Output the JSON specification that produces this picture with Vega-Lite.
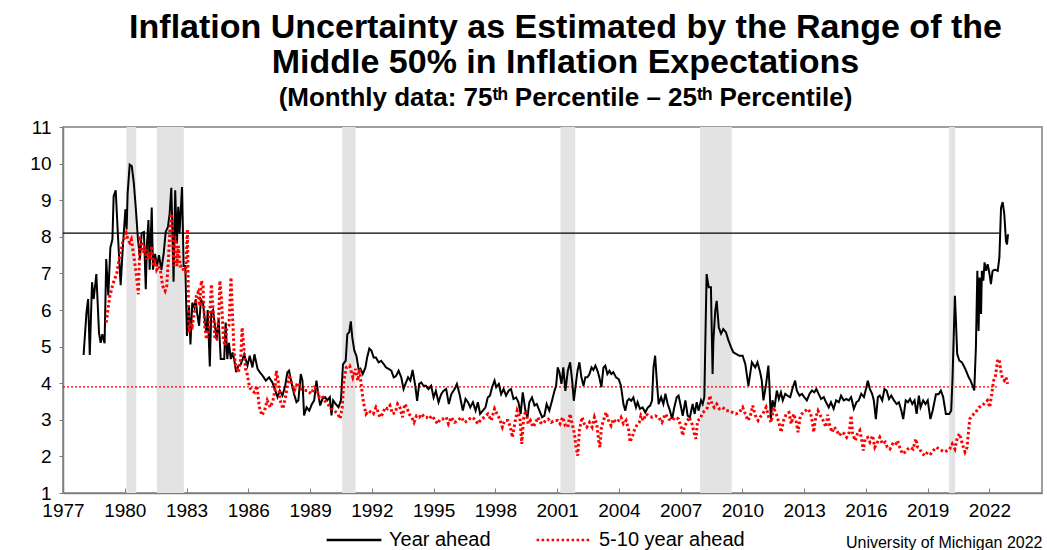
{
"$schema": "https://vega.github.io/schema/vega-lite/v6.json",
"width": 979, "height": 366,
"autosize": {"type": "none"},
"padding": {"left": 63, "top": 127, "right": 5, "bottom": 57},
"background": "white",
"config": {"view": {"stroke": "#7f7f7f", "strokeWidth": 1.5}},
"title": {"text": ["Inflation Uncertainty as Estimated by the Range of the", "Middle 50% in Inflation Expectations"], "subtitle": "(Monthly data:  75ᵗʰ Percentile – 25ᵗʰ Percentile)", "font": "Liberation Sans", "fontSize": 34, "fontWeight": "bold", "lineHeight": 35, "color": "black", "subtitleFont": "Liberation Sans", "subtitleFontSize": 26, "subtitleFontWeight": "bold", "subtitleColor": "black", "subtitlePadding": 5, "anchor": "middle", "frame": "group", "dx": 13, "offset": 7},
"datasets": {
"rec": [{"a":1980.08,"b":1980.56},{"a":1981.56,"b":1982.87},{"a":1990.56,"b":1991.21},{"a":2001.16,"b":2001.88},{"a":2007.94,"b":2009.48},{"a":2020.03,"b":2020.33}],
"ref": [{"lvl":8.1,"from":1977,"to":2022.48,"k":"Year ahead"},{"lvl":3.9,"from":1977,"to":2022.4,"k":"5-10 year ahead"}],
"lines": [
{"s":"Year ahead","t":1978.00,"v":4.77},{"s":"Year ahead","t":1978.14,"v":5.93},{"s":"Year ahead","t":1978.22,"v":6.30},{"s":"Year ahead","t":1978.30,"v":4.77},{"s":"Year ahead","t":1978.41,"v":6.76},{"s":"Year ahead","t":1978.49,"v":6.30},{"s":"Year ahead","t":1978.62,"v":6.98},{"s":"Year ahead","t":1978.75,"v":5.37},{"s":"Year ahead","t":1978.83,"v":5.10},{"s":"Year ahead","t":1978.91,"v":5.34},
{"s":"Year ahead","t":1979.02,"v":5.09},{"s":"Year ahead","t":1979.10,"v":7.39},{"s":"Year ahead","t":1979.20,"v":6.40},{"s":"Year ahead","t":1979.30,"v":7.70},{"s":"Year ahead","t":1979.40,"v":7.93},{"s":"Year ahead","t":1979.46,"v":9.11},{"s":"Year ahead","t":1979.56,"v":9.27},{"s":"Year ahead","t":1979.67,"v":8.02},{"s":"Year ahead","t":1979.80,"v":6.68},{"s":"Year ahead","t":1979.91,"v":7.75},
{"s":"Year ahead","t":1980.03,"v":8.75},{"s":"Year ahead","t":1980.09,"v":8.20},{"s":"Year ahead","t":1980.14,"v":9.20},{"s":"Year ahead","t":1980.24,"v":9.97},{"s":"Year ahead","t":1980.34,"v":9.93},{"s":"Year ahead","t":1980.44,"v":9.47},{"s":"Year ahead","t":1980.54,"v":8.75},{"s":"Year ahead","t":1980.64,"v":7.93},{"s":"Year ahead","t":1980.74,"v":7.39},{"s":"Year ahead","t":1980.82,"v":8.10},{"s":"Year ahead","t":1980.93,"v":8.13},
{"s":"Year ahead","t":1981.02,"v":6.57},{"s":"Year ahead","t":1981.08,"v":7.82},{"s":"Year ahead","t":1981.15,"v":8.46},{"s":"Year ahead","t":1981.21,"v":7.10},{"s":"Year ahead","t":1981.31,"v":8.80},{"s":"Year ahead","t":1981.37,"v":7.10},{"s":"Year ahead","t":1981.47,"v":7.53},{"s":"Year ahead","t":1981.57,"v":7.20},{"s":"Year ahead","t":1981.66,"v":7.50},{"s":"Year ahead","t":1981.78,"v":7.10},{"s":"Year ahead","t":1981.89,"v":7.55},{"s":"Year ahead","t":1981.99,"v":8.14},
{"s":"Year ahead","t":1982.10,"v":8.27},{"s":"Year ahead","t":1982.18,"v":8.64},{"s":"Year ahead","t":1982.26,"v":9.34},{"s":"Year ahead","t":1982.31,"v":8.30},{"s":"Year ahead","t":1982.37,"v":6.77},{"s":"Year ahead","t":1982.45,"v":9.27},{"s":"Year ahead","t":1982.53,"v":7.82},{"s":"Year ahead","t":1982.60,"v":8.82},{"s":"Year ahead","t":1982.66,"v":8.10},{"s":"Year ahead","t":1982.78,"v":9.36},{"s":"Year ahead","t":1982.86,"v":7.20},{"s":"Year ahead","t":1982.94,"v":7.20},
{"s":"Year ahead","t":1983.02,"v":5.29},{"s":"Year ahead","t":1983.12,"v":6.11},{"s":"Year ahead","t":1983.19,"v":5.06},{"s":"Year ahead","t":1983.28,"v":6.20},{"s":"Year ahead","t":1983.38,"v":6.06},{"s":"Year ahead","t":1983.45,"v":6.29},{"s":"Year ahead","t":1983.51,"v":5.93},{"s":"Year ahead","t":1983.61,"v":5.57},{"s":"Year ahead","t":1983.70,"v":6.29},{"s":"Year ahead","t":1983.80,"v":6.20},{"s":"Year ahead","t":1983.90,"v":5.66},{"s":"Year ahead","t":1983.97,"v":5.38},
{"s":"Year ahead","t":1984.03,"v":6.00},{"s":"Year ahead","t":1984.13,"v":4.46},{"s":"Year ahead","t":1984.20,"v":5.93},{"s":"Year ahead","t":1984.29,"v":6.00},{"s":"Year ahead","t":1984.38,"v":5.57},{"s":"Year ahead","t":1984.46,"v":5.20},{"s":"Year ahead","t":1984.56,"v":5.75},{"s":"Year ahead","t":1984.66,"v":4.66},{"s":"Year ahead","t":1984.75,"v":4.66},{"s":"Year ahead","t":1984.83,"v":4.66},{"s":"Year ahead","t":1984.90,"v":5.66},{"s":"Year ahead","t":1984.98,"v":4.66},
{"s":"Year ahead","t":1985.06,"v":5.10},{"s":"Year ahead","t":1985.15,"v":4.66},{"s":"Year ahead","t":1985.24,"v":4.84},{"s":"Year ahead","t":1985.31,"v":4.66},{"s":"Year ahead","t":1985.41,"v":4.30},{"s":"Year ahead","t":1985.52,"v":4.48},{"s":"Year ahead","t":1985.64,"v":4.52},{"s":"Year ahead","t":1985.80,"v":4.79},{"s":"Year ahead","t":1985.96,"v":4.48},
{"s":"Year ahead","t":1986.07,"v":4.75},{"s":"Year ahead","t":1986.20,"v":4.43},{"s":"Year ahead","t":1986.30,"v":4.79},{"s":"Year ahead","t":1986.45,"v":4.39},{"s":"Year ahead","t":1986.56,"v":4.30},{"s":"Year ahead","t":1986.69,"v":4.21},{"s":"Year ahead","t":1986.85,"v":4.07},
{"s":"Year ahead","t":1987.01,"v":4.16},{"s":"Year ahead","t":1987.17,"v":4.02},{"s":"Year ahead","t":1987.34,"v":3.75},{"s":"Year ahead","t":1987.42,"v":3.62},{"s":"Year ahead","t":1987.53,"v":3.80},{"s":"Year ahead","t":1987.66,"v":3.66},{"s":"Year ahead","t":1987.79,"v":3.93},{"s":"Year ahead","t":1987.90,"v":4.30},{"s":"Year ahead","t":1987.98,"v":4.34},
{"s":"Year ahead","t":1988.11,"v":3.98},{"s":"Year ahead","t":1988.22,"v":3.71},{"s":"Year ahead","t":1988.34,"v":3.48},{"s":"Year ahead","t":1988.43,"v":3.53},{"s":"Year ahead","t":1988.55,"v":4.25},{"s":"Year ahead","t":1988.63,"v":4.07},{"s":"Year ahead","t":1988.71,"v":3.12},{"s":"Year ahead","t":1988.83,"v":3.34},{"s":"Year ahead","t":1988.96,"v":3.25},
{"s":"Year ahead","t":1989.09,"v":3.43},{"s":"Year ahead","t":1989.20,"v":3.53},{"s":"Year ahead","t":1989.31,"v":4.07},{"s":"Year ahead","t":1989.41,"v":3.66},{"s":"Year ahead","t":1989.49,"v":3.39},{"s":"Year ahead","t":1989.60,"v":3.57},{"s":"Year ahead","t":1989.73,"v":3.62},{"s":"Year ahead","t":1989.84,"v":3.53},{"s":"Year ahead","t":1989.96,"v":3.62},
{"s":"Year ahead","t":1990.04,"v":3.12},{"s":"Year ahead","t":1990.12,"v":3.53},{"s":"Year ahead","t":1990.25,"v":3.43},{"s":"Year ahead","t":1990.38,"v":3.34},{"s":"Year ahead","t":1990.50,"v":3.53},{"s":"Year ahead","t":1990.60,"v":4.52},{"s":"Year ahead","t":1990.73,"v":4.61},{"s":"Year ahead","t":1990.81,"v":5.34},{"s":"Year ahead","t":1990.90,"v":5.39},{"s":"Year ahead","t":1990.98,"v":5.69},
{"s":"Year ahead","t":1991.05,"v":5.25},{"s":"Year ahead","t":1991.15,"v":4.89},{"s":"Year ahead","t":1991.25,"v":4.75},{"s":"Year ahead","t":1991.37,"v":4.34},{"s":"Year ahead","t":1991.45,"v":4.39},{"s":"Year ahead","t":1991.56,"v":4.25},{"s":"Year ahead","t":1991.69,"v":4.43},{"s":"Year ahead","t":1991.77,"v":4.70},{"s":"Year ahead","t":1991.88,"v":4.95},{"s":"Year ahead","t":1991.98,"v":4.89},
{"s":"Year ahead","t":1992.09,"v":4.70},{"s":"Year ahead","t":1992.20,"v":4.70},{"s":"Year ahead","t":1992.33,"v":4.57},{"s":"Year ahead","t":1992.46,"v":4.61},{"s":"Year ahead","t":1992.58,"v":4.52},{"s":"Year ahead","t":1992.69,"v":4.43},{"s":"Year ahead","t":1992.82,"v":4.39},{"s":"Year ahead","t":1992.95,"v":4.34},
{"s":"Year ahead","t":1993.06,"v":4.16},{"s":"Year ahead","t":1993.18,"v":4.20},{"s":"Year ahead","t":1993.30,"v":4.34},{"s":"Year ahead","t":1993.43,"v":4.16},{"s":"Year ahead","t":1993.54,"v":3.84},{"s":"Year ahead","t":1993.66,"v":4.02},{"s":"Year ahead","t":1993.76,"v":4.16},{"s":"Year ahead","t":1993.87,"v":4.07},{"s":"Year ahead","t":1993.98,"v":4.36},
{"s":"Year ahead","t":1994.11,"v":3.93},{"s":"Year ahead","t":1994.20,"v":3.52},{"s":"Year ahead","t":1994.30,"v":3.98},{"s":"Year ahead","t":1994.40,"v":4.02},{"s":"Year ahead","t":1994.51,"v":3.93},{"s":"Year ahead","t":1994.62,"v":3.93},{"s":"Year ahead","t":1994.75,"v":3.84},{"s":"Year ahead","t":1994.88,"v":3.93},
{"s":"Year ahead","t":1995.00,"v":3.61},{"s":"Year ahead","t":1995.11,"v":3.79},{"s":"Year ahead","t":1995.24,"v":3.48},{"s":"Year ahead","t":1995.37,"v":3.70},{"s":"Year ahead","t":1995.48,"v":3.79},{"s":"Year ahead","t":1995.61,"v":3.84},{"s":"Year ahead","t":1995.74,"v":3.43},{"s":"Year ahead","t":1995.86,"v":3.70},
{"s":"Year ahead","t":1996.02,"v":3.84},{"s":"Year ahead","t":1996.13,"v":3.98},{"s":"Year ahead","t":1996.26,"v":3.70},{"s":"Year ahead","t":1996.42,"v":3.25},{"s":"Year ahead","t":1996.55,"v":3.57},{"s":"Year ahead","t":1996.67,"v":3.48},{"s":"Year ahead","t":1996.78,"v":3.34},{"s":"Year ahead","t":1996.91,"v":3.48},
{"s":"Year ahead","t":1997.04,"v":3.25},{"s":"Year ahead","t":1997.15,"v":3.48},{"s":"Year ahead","t":1997.26,"v":3.16},{"s":"Year ahead","t":1997.39,"v":3.25},{"s":"Year ahead","t":1997.52,"v":3.34},{"s":"Year ahead","t":1997.63,"v":3.61},{"s":"Year ahead","t":1997.74,"v":3.66},{"s":"Year ahead","t":1997.84,"v":3.89},{"s":"Year ahead","t":1997.96,"v":4.07},
{"s":"Year ahead","t":1998.04,"v":3.89},{"s":"Year ahead","t":1998.17,"v":3.98},{"s":"Year ahead","t":1998.28,"v":3.70},{"s":"Year ahead","t":1998.40,"v":3.84},{"s":"Year ahead","t":1998.52,"v":3.66},{"s":"Year ahead","t":1998.65,"v":3.80},{"s":"Year ahead","t":1998.76,"v":3.84},{"s":"Year ahead","t":1998.88,"v":3.57},
{"s":"Year ahead","t":1999.01,"v":3.61},{"s":"Year ahead","t":1999.12,"v":3.48},{"s":"Year ahead","t":1999.23,"v":3.16},{"s":"Year ahead","t":1999.33,"v":3.75},{"s":"Year ahead","t":1999.46,"v":3.25},{"s":"Year ahead","t":1999.56,"v":3.07},{"s":"Year ahead","t":1999.65,"v":3.48},{"s":"Year ahead","t":1999.78,"v":3.61},{"s":"Year ahead","t":1999.90,"v":3.39},
{"s":"Year ahead","t":2000.01,"v":3.43},{"s":"Year ahead","t":2000.14,"v":3.25},{"s":"Year ahead","t":2000.27,"v":3.07},{"s":"Year ahead","t":2000.38,"v":3.11},{"s":"Year ahead","t":2000.49,"v":3.43},{"s":"Year ahead","t":2000.62,"v":3.25},{"s":"Year ahead","t":2000.75,"v":3.52},{"s":"Year ahead","t":2000.87,"v":3.79},{"s":"Year ahead","t":2000.95,"v":3.93},
{"s":"Year ahead","t":2001.03,"v":4.43},{"s":"Year ahead","t":2001.11,"v":4.30},{"s":"Year ahead","t":2001.21,"v":3.98},{"s":"Year ahead","t":2001.30,"v":4.43},{"s":"Year ahead","t":2001.40,"v":3.79},{"s":"Year ahead","t":2001.52,"v":4.34},{"s":"Year ahead","t":2001.63,"v":4.57},{"s":"Year ahead","t":2001.73,"v":4.07},{"s":"Year ahead","t":2001.81,"v":3.52},{"s":"Year ahead","t":2001.89,"v":3.89},{"s":"Year ahead","t":2001.99,"v":4.34},
{"s":"Year ahead","t":2002.08,"v":4.57},{"s":"Year ahead","t":2002.18,"v":4.16},{"s":"Year ahead","t":2002.28,"v":3.93},{"s":"Year ahead","t":2002.37,"v":4.16},{"s":"Year ahead","t":2002.47,"v":4.16},{"s":"Year ahead","t":2002.57,"v":4.25},{"s":"Year ahead","t":2002.67,"v":4.43},{"s":"Year ahead","t":2002.76,"v":4.36},{"s":"Year ahead","t":2002.86,"v":4.48},{"s":"Year ahead","t":2002.96,"v":4.34},
{"s":"Year ahead","t":2003.05,"v":4.16},{"s":"Year ahead","t":2003.15,"v":3.89},{"s":"Year ahead","t":2003.25,"v":4.43},{"s":"Year ahead","t":2003.34,"v":4.48},{"s":"Year ahead","t":2003.44,"v":4.25},{"s":"Year ahead","t":2003.54,"v":4.34},{"s":"Year ahead","t":2003.63,"v":4.25},{"s":"Year ahead","t":2003.73,"v":4.30},{"s":"Year ahead","t":2003.86,"v":4.16},{"s":"Year ahead","t":2003.99,"v":4.11},
{"s":"Year ahead","t":2004.10,"v":3.93},{"s":"Year ahead","t":2004.22,"v":3.43},{"s":"Year ahead","t":2004.31,"v":3.25},{"s":"Year ahead","t":2004.41,"v":3.52},{"s":"Year ahead","t":2004.50,"v":3.57},{"s":"Year ahead","t":2004.60,"v":3.52},{"s":"Year ahead","t":2004.70,"v":3.61},{"s":"Year ahead","t":2004.83,"v":3.34},{"s":"Year ahead","t":2004.91,"v":3.48},
{"s":"Year ahead","t":2005.02,"v":3.30},{"s":"Year ahead","t":2005.15,"v":3.34},{"s":"Year ahead","t":2005.28,"v":3.20},{"s":"Year ahead","t":2005.41,"v":3.34},{"s":"Year ahead","t":2005.52,"v":3.39},{"s":"Year ahead","t":2005.61,"v":3.53},{"s":"Year ahead","t":2005.68,"v":4.43},{"s":"Year ahead","t":2005.76,"v":4.75},{"s":"Year ahead","t":2005.84,"v":4.07},{"s":"Year ahead","t":2005.93,"v":3.43},
{"s":"Year ahead","t":2006.05,"v":3.62},{"s":"Year ahead","t":2006.16,"v":3.43},{"s":"Year ahead","t":2006.26,"v":3.71},{"s":"Year ahead","t":2006.37,"v":3.43},{"s":"Year ahead","t":2006.48,"v":3.25},{"s":"Year ahead","t":2006.58,"v":3.02},{"s":"Year ahead","t":2006.69,"v":3.34},{"s":"Year ahead","t":2006.81,"v":3.62},{"s":"Year ahead","t":2006.90,"v":3.66},
{"s":"Year ahead","t":2007.02,"v":3.34},{"s":"Year ahead","t":2007.10,"v":3.11},{"s":"Year ahead","t":2007.23,"v":3.53},{"s":"Year ahead","t":2007.34,"v":3.11},{"s":"Year ahead","t":2007.45,"v":3.07},{"s":"Year ahead","t":2007.58,"v":3.43},{"s":"Year ahead","t":2007.68,"v":3.16},{"s":"Year ahead","t":2007.78,"v":3.48},{"s":"Year ahead","t":2007.87,"v":3.25},{"s":"Year ahead","t":2007.99,"v":3.53},
{"s":"Year ahead","t":2008.07,"v":3.43},{"s":"Year ahead","t":2008.15,"v":3.62},{"s":"Year ahead","t":2008.20,"v":5.17},{"s":"Year ahead","t":2008.26,"v":6.98},{"s":"Year ahead","t":2008.36,"v":6.62},{"s":"Year ahead","t":2008.47,"v":6.62},{"s":"Year ahead","t":2008.55,"v":4.25},{"s":"Year ahead","t":2008.59,"v":5.17},{"s":"Year ahead","t":2008.68,"v":5.98},{"s":"Year ahead","t":2008.75,"v":6.25},{"s":"Year ahead","t":2008.85,"v":5.53},{"s":"Year ahead","t":2008.96,"v":5.35},
{"s":"Year ahead","t":2009.07,"v":5.48},{"s":"Year ahead","t":2009.20,"v":5.39},{"s":"Year ahead","t":2009.32,"v":5.17},{"s":"Year ahead","t":2009.45,"v":4.98},{"s":"Year ahead","t":2009.56,"v":4.84},{"s":"Year ahead","t":2009.69,"v":4.80},{"s":"Year ahead","t":2009.85,"v":4.75},
{"s":"Year ahead","t":2010.01,"v":4.75},{"s":"Year ahead","t":2010.14,"v":4.52},{"s":"Year ahead","t":2010.29,"v":3.93},{"s":"Year ahead","t":2010.46,"v":4.57},{"s":"Year ahead","t":2010.62,"v":4.43},{"s":"Year ahead","t":2010.73,"v":4.57},{"s":"Year ahead","t":2010.86,"v":4.30},{"s":"Year ahead","t":2010.94,"v":4.07},
{"s":"Year ahead","t":2011.02,"v":3.53},{"s":"Year ahead","t":2011.15,"v":3.98},{"s":"Year ahead","t":2011.26,"v":4.48},{"s":"Year ahead","t":2011.31,"v":3.98},{"s":"Year ahead","t":2011.38,"v":3.02},{"s":"Year ahead","t":2011.46,"v":3.53},{"s":"Year ahead","t":2011.56,"v":3.34},{"s":"Year ahead","t":2011.67,"v":3.80},{"s":"Year ahead","t":2011.77,"v":3.57},{"s":"Year ahead","t":2011.87,"v":3.75},{"s":"Year ahead","t":2011.96,"v":3.53},
{"s":"Year ahead","t":2012.08,"v":3.71},{"s":"Year ahead","t":2012.19,"v":3.66},{"s":"Year ahead","t":2012.32,"v":3.62},{"s":"Year ahead","t":2012.45,"v":3.89},{"s":"Year ahead","t":2012.56,"v":4.07},{"s":"Year ahead","t":2012.64,"v":3.80},{"s":"Year ahead","t":2012.77,"v":3.66},{"s":"Year ahead","t":2012.89,"v":3.71},
{"s":"Year ahead","t":2013.00,"v":3.62},{"s":"Year ahead","t":2013.13,"v":3.53},{"s":"Year ahead","t":2013.26,"v":3.71},{"s":"Year ahead","t":2013.38,"v":3.80},{"s":"Year ahead","t":2013.49,"v":3.75},{"s":"Year ahead","t":2013.59,"v":3.84},{"s":"Year ahead","t":2013.70,"v":3.71},{"s":"Year ahead","t":2013.82,"v":3.57},{"s":"Year ahead","t":2013.95,"v":3.62},
{"s":"Year ahead","t":2014.06,"v":3.48},{"s":"Year ahead","t":2014.19,"v":3.34},{"s":"Year ahead","t":2014.30,"v":3.48},{"s":"Year ahead","t":2014.43,"v":3.30},{"s":"Year ahead","t":2014.55,"v":3.53},{"s":"Year ahead","t":2014.68,"v":3.48},{"s":"Year ahead","t":2014.79,"v":3.66},{"s":"Year ahead","t":2014.92,"v":3.53},
{"s":"Year ahead","t":2015.04,"v":3.57},{"s":"Year ahead","t":2015.17,"v":3.53},{"s":"Year ahead","t":2015.28,"v":3.62},{"s":"Year ahead","t":2015.41,"v":3.30},{"s":"Year ahead","t":2015.54,"v":3.48},{"s":"Year ahead","t":2015.65,"v":3.53},{"s":"Year ahead","t":2015.77,"v":3.71},{"s":"Year ahead","t":2015.90,"v":3.62},
{"s":"Year ahead","t":2016.00,"v":3.84},{"s":"Year ahead","t":2016.09,"v":4.07},{"s":"Year ahead","t":2016.19,"v":3.84},{"s":"Year ahead","t":2016.30,"v":3.71},{"s":"Year ahead","t":2016.38,"v":3.53},{"s":"Year ahead","t":2016.48,"v":3.02},{"s":"Year ahead","t":2016.58,"v":3.62},{"s":"Year ahead","t":2016.67,"v":3.66},{"s":"Year ahead","t":2016.79,"v":3.53},{"s":"Year ahead","t":2016.90,"v":3.84},
{"s":"Year ahead","t":2017.00,"v":3.80},{"s":"Year ahead","t":2017.12,"v":3.57},{"s":"Year ahead","t":2017.23,"v":3.66},{"s":"Year ahead","t":2017.36,"v":3.53},{"s":"Year ahead","t":2017.49,"v":3.43},{"s":"Year ahead","t":2017.60,"v":3.48},{"s":"Year ahead","t":2017.72,"v":3.25},{"s":"Year ahead","t":2017.81,"v":3.02},{"s":"Year ahead","t":2017.93,"v":3.53},
{"s":"Year ahead","t":2018.04,"v":3.48},{"s":"Year ahead","t":2018.14,"v":3.57},{"s":"Year ahead","t":2018.25,"v":3.43},{"s":"Year ahead","t":2018.36,"v":3.53},{"s":"Year ahead","t":2018.46,"v":3.16},{"s":"Year ahead","t":2018.57,"v":3.66},{"s":"Year ahead","t":2018.65,"v":3.34},{"s":"Year ahead","t":2018.78,"v":3.53},{"s":"Year ahead","t":2018.89,"v":3.43},
{"s":"Year ahead","t":2019.00,"v":3.53},{"s":"Year ahead","t":2019.13,"v":3.02},{"s":"Year ahead","t":2019.24,"v":3.25},{"s":"Year ahead","t":2019.40,"v":3.70},{"s":"Year ahead","t":2019.53,"v":3.70},{"s":"Year ahead","t":2019.64,"v":3.80},{"s":"Year ahead","t":2019.75,"v":3.62},{"s":"Year ahead","t":2019.88,"v":3.16},
{"s":"Year ahead","t":2020.04,"v":3.16},{"s":"Year ahead","t":2020.14,"v":3.25},{"s":"Year ahead","t":2020.20,"v":4.07},{"s":"Year ahead","t":2020.27,"v":5.43},{"s":"Year ahead","t":2020.32,"v":6.39},{"s":"Year ahead","t":2020.37,"v":5.71},{"s":"Year ahead","t":2020.43,"v":4.80},{"s":"Year ahead","t":2020.53,"v":4.62},{"s":"Year ahead","t":2020.66,"v":4.57},{"s":"Year ahead","t":2020.79,"v":4.43},{"s":"Year ahead","t":2020.89,"v":4.30},{"s":"Year ahead","t":2020.99,"v":4.16},
{"s":"Year ahead","t":2021.08,"v":4.07},{"s":"Year ahead","t":2021.18,"v":3.93},{"s":"Year ahead","t":2021.26,"v":3.80},{"s":"Year ahead","t":2021.34,"v":4.98},{"s":"Year ahead","t":2021.41,"v":7.07},{"s":"Year ahead","t":2021.47,"v":5.43},{"s":"Year ahead","t":2021.52,"v":6.89},{"s":"Year ahead","t":2021.59,"v":5.89},{"s":"Year ahead","t":2021.63,"v":7.07},{"s":"Year ahead","t":2021.70,"v":6.80},{"s":"Year ahead","t":2021.76,"v":7.30},{"s":"Year ahead","t":2021.83,"v":7.07},{"s":"Year ahead","t":2021.91,"v":7.25},{"s":"Year ahead","t":2021.99,"v":7.02},
{"s":"Year ahead","t":2022.07,"v":6.71},{"s":"Year ahead","t":2022.15,"v":7.07},{"s":"Year ahead","t":2022.28,"v":7.10},{"s":"Year ahead","t":2022.40,"v":7.07},{"s":"Year ahead","t":2022.48,"v":7.43},{"s":"Year ahead","t":2022.56,"v":8.79},{"s":"Year ahead","t":2022.64,"v":8.95},{"s":"Year ahead","t":2022.72,"v":8.61},{"s":"Year ahead","t":2022.80,"v":7.88},{"s":"Year ahead","t":2022.85,"v":7.79},{"s":"Year ahead","t":2022.90,"v":8.07},
{"s":"5-10 year ahead","t":1979.10,"v":5.66},{"s":"5-10 year ahead","t":1979.26,"v":6.34},{"s":"5-10 year ahead","t":1979.42,"v":6.70},{"s":"5-10 year ahead","t":1979.62,"v":7.02},{"s":"5-10 year ahead","t":1979.75,"v":7.47},{"s":"5-10 year ahead","t":1979.91,"v":7.87},
{"s":"5-10 year ahead","t":1980.07,"v":8.10},{"s":"5-10 year ahead","t":1980.15,"v":7.93},{"s":"5-10 year ahead","t":1980.24,"v":7.84},{"s":"5-10 year ahead","t":1980.32,"v":7.93},{"s":"5-10 year ahead","t":1980.44,"v":7.47},{"s":"5-10 year ahead","t":1980.56,"v":6.98},{"s":"5-10 year ahead","t":1980.66,"v":6.43},{"s":"5-10 year ahead","t":1980.74,"v":7.93},{"s":"5-10 year ahead","t":1980.82,"v":7.87},{"s":"5-10 year ahead","t":1980.90,"v":7.56},{"s":"5-10 year ahead","t":1980.98,"v":7.75},
{"s":"5-10 year ahead","t":1981.06,"v":7.38},{"s":"5-10 year ahead","t":1981.14,"v":7.56},{"s":"5-10 year ahead","t":1981.23,"v":7.38},{"s":"5-10 year ahead","t":1981.31,"v":7.75},{"s":"5-10 year ahead","t":1981.39,"v":7.20},{"s":"5-10 year ahead","t":1981.47,"v":7.38},{"s":"5-10 year ahead","t":1981.55,"v":7.10},{"s":"5-10 year ahead","t":1981.65,"v":7.20},{"s":"5-10 year ahead","t":1981.75,"v":7.02},{"s":"5-10 year ahead","t":1981.84,"v":6.66},{"s":"5-10 year ahead","t":1981.96,"v":6.52},
{"s":"5-10 year ahead","t":1982.04,"v":6.66},{"s":"5-10 year ahead","t":1982.12,"v":7.38},{"s":"5-10 year ahead","t":1982.20,"v":8.28},{"s":"5-10 year ahead","t":1982.25,"v":8.64},{"s":"5-10 year ahead","t":1982.32,"v":8.28},{"s":"5-10 year ahead","t":1982.37,"v":7.20},{"s":"5-10 year ahead","t":1982.45,"v":8.00},{"s":"5-10 year ahead","t":1982.53,"v":7.20},{"s":"5-10 year ahead","t":1982.60,"v":7.75},{"s":"5-10 year ahead","t":1982.69,"v":7.20},{"s":"5-10 year ahead","t":1982.80,"v":7.20},{"s":"5-10 year ahead","t":1982.88,"v":7.02},{"s":"5-10 year ahead","t":1982.96,"v":7.02},
{"s":"5-10 year ahead","t":1983.04,"v":8.20},{"s":"5-10 year ahead","t":1983.12,"v":5.38},{"s":"5-10 year ahead","t":1983.20,"v":5.66},{"s":"5-10 year ahead","t":1983.28,"v":5.57},{"s":"5-10 year ahead","t":1983.40,"v":6.02},{"s":"5-10 year ahead","t":1983.48,"v":6.39},{"s":"5-10 year ahead","t":1983.56,"v":6.48},{"s":"5-10 year ahead","t":1983.64,"v":6.11},{"s":"5-10 year ahead","t":1983.72,"v":6.80},{"s":"5-10 year ahead","t":1983.80,"v":6.66},{"s":"5-10 year ahead","t":1983.88,"v":5.57},{"s":"5-10 year ahead","t":1983.97,"v":5.20},
{"s":"5-10 year ahead","t":1984.08,"v":5.47},{"s":"5-10 year ahead","t":1984.21,"v":6.70},{"s":"5-10 year ahead","t":1984.29,"v":5.93},{"s":"5-10 year ahead","t":1984.38,"v":5.20},{"s":"5-10 year ahead","t":1984.46,"v":5.20},{"s":"5-10 year ahead","t":1984.56,"v":5.75},{"s":"5-10 year ahead","t":1984.62,"v":6.80},{"s":"5-10 year ahead","t":1984.70,"v":6.29},{"s":"5-10 year ahead","t":1984.79,"v":5.20},{"s":"5-10 year ahead","t":1984.87,"v":5.02},{"s":"5-10 year ahead","t":1984.95,"v":5.47},
{"s":"5-10 year ahead","t":1985.06,"v":5.57},{"s":"5-10 year ahead","t":1985.16,"v":6.89},{"s":"5-10 year ahead","t":1985.23,"v":5.93},{"s":"5-10 year ahead","t":1985.31,"v":4.84},{"s":"5-10 year ahead","t":1985.39,"v":4.48},{"s":"5-10 year ahead","t":1985.52,"v":4.30},{"s":"5-10 year ahead","t":1985.63,"v":4.66},{"s":"5-10 year ahead","t":1985.70,"v":5.52},{"s":"5-10 year ahead","t":1985.78,"v":5.00},{"s":"5-10 year ahead","t":1985.86,"v":4.40},{"s":"5-10 year ahead","t":1985.93,"v":4.30},
{"s":"5-10 year ahead","t":1986.06,"v":3.89},{"s":"5-10 year ahead","t":1986.17,"v":3.80},{"s":"5-10 year ahead","t":1986.30,"v":3.75},{"s":"5-10 year ahead","t":1986.42,"v":3.93},{"s":"5-10 year ahead","t":1986.54,"v":3.34},{"s":"5-10 year ahead","t":1986.66,"v":3.12},{"s":"5-10 year ahead","t":1986.79,"v":3.25},{"s":"5-10 year ahead","t":1986.92,"v":3.53},
{"s":"5-10 year ahead","t":1987.07,"v":3.34},{"s":"5-10 year ahead","t":1987.20,"v":3.53},{"s":"5-10 year ahead","t":1987.29,"v":3.80},{"s":"5-10 year ahead","t":1987.36,"v":4.34},{"s":"5-10 year ahead","t":1987.45,"v":4.07},{"s":"5-10 year ahead","t":1987.55,"v":3.53},{"s":"5-10 year ahead","t":1987.68,"v":3.30},{"s":"5-10 year ahead","t":1987.81,"v":3.62},{"s":"5-10 year ahead","t":1987.89,"v":3.93},
{"s":"5-10 year ahead","t":1988.00,"v":4.16},{"s":"5-10 year ahead","t":1988.13,"v":3.98},{"s":"5-10 year ahead","t":1988.24,"v":3.80},{"s":"5-10 year ahead","t":1988.40,"v":4.02},{"s":"5-10 year ahead","t":1988.56,"v":3.84},{"s":"5-10 year ahead","t":1988.72,"v":3.80},{"s":"5-10 year ahead","t":1988.88,"v":3.80},
{"s":"5-10 year ahead","t":1989.05,"v":3.71},{"s":"5-10 year ahead","t":1989.21,"v":3.89},{"s":"5-10 year ahead","t":1989.32,"v":3.84},{"s":"5-10 year ahead","t":1989.45,"v":3.62},{"s":"5-10 year ahead","t":1989.58,"v":3.66},{"s":"5-10 year ahead","t":1989.70,"v":3.53},{"s":"5-10 year ahead","t":1989.86,"v":3.43},
{"s":"5-10 year ahead","t":1990.02,"v":3.30},{"s":"5-10 year ahead","t":1990.18,"v":3.25},{"s":"5-10 year ahead","t":1990.35,"v":3.16},{"s":"5-10 year ahead","t":1990.46,"v":3.03},{"s":"5-10 year ahead","t":1990.56,"v":3.34},{"s":"5-10 year ahead","t":1990.64,"v":4.07},{"s":"5-10 year ahead","t":1990.76,"v":4.43},{"s":"5-10 year ahead","t":1990.92,"v":4.48},
{"s":"5-10 year ahead","t":1991.08,"v":4.16},{"s":"5-10 year ahead","t":1991.21,"v":4.39},{"s":"5-10 year ahead","t":1991.32,"v":4.07},{"s":"5-10 year ahead","t":1991.40,"v":4.39},{"s":"5-10 year ahead","t":1991.48,"v":3.98},{"s":"5-10 year ahead","t":1991.56,"v":3.61},{"s":"5-10 year ahead","t":1991.64,"v":3.34},{"s":"5-10 year ahead","t":1991.72,"v":3.16},{"s":"5-10 year ahead","t":1991.85,"v":3.25},{"s":"5-10 year ahead","t":1991.96,"v":3.20},
{"s":"5-10 year ahead","t":1992.07,"v":3.16},{"s":"5-10 year ahead","t":1992.20,"v":3.34},{"s":"5-10 year ahead","t":1992.28,"v":3.25},{"s":"5-10 year ahead","t":1992.39,"v":3.07},{"s":"5-10 year ahead","t":1992.52,"v":3.16},{"s":"5-10 year ahead","t":1992.65,"v":3.34},{"s":"5-10 year ahead","t":1992.76,"v":3.30},{"s":"5-10 year ahead","t":1992.88,"v":3.39},
{"s":"5-10 year ahead","t":1993.01,"v":3.16},{"s":"5-10 year ahead","t":1993.14,"v":3.20},{"s":"5-10 year ahead","t":1993.25,"v":3.43},{"s":"5-10 year ahead","t":1993.36,"v":3.34},{"s":"5-10 year ahead","t":1993.49,"v":3.07},{"s":"5-10 year ahead","t":1993.60,"v":3.43},{"s":"5-10 year ahead","t":1993.70,"v":3.34},{"s":"5-10 year ahead","t":1993.81,"v":3.16},{"s":"5-10 year ahead","t":1993.94,"v":3.07},
{"s":"5-10 year ahead","t":1994.05,"v":2.93},{"s":"5-10 year ahead","t":1994.17,"v":3.11},{"s":"5-10 year ahead","t":1994.30,"v":3.07},{"s":"5-10 year ahead","t":1994.43,"v":3.16},{"s":"5-10 year ahead","t":1994.54,"v":3.07},{"s":"5-10 year ahead","t":1994.65,"v":3.07},{"s":"5-10 year ahead","t":1994.78,"v":3.02},{"s":"5-10 year ahead","t":1994.91,"v":3.11},
{"s":"5-10 year ahead","t":1995.04,"v":3.02},{"s":"5-10 year ahead","t":1995.19,"v":2.89},{"s":"5-10 year ahead","t":1995.32,"v":3.02},{"s":"5-10 year ahead","t":1995.45,"v":3.02},{"s":"5-10 year ahead","t":1995.61,"v":3.07},{"s":"5-10 year ahead","t":1995.72,"v":2.89},{"s":"5-10 year ahead","t":1995.86,"v":3.07},
{"s":"5-10 year ahead","t":1996.02,"v":2.93},{"s":"5-10 year ahead","t":1996.18,"v":2.98},{"s":"5-10 year ahead","t":1996.34,"v":3.07},{"s":"5-10 year ahead","t":1996.50,"v":2.93},{"s":"5-10 year ahead","t":1996.67,"v":2.98},{"s":"5-10 year ahead","t":1996.83,"v":3.07},{"s":"5-10 year ahead","t":1996.99,"v":3.02},
{"s":"5-10 year ahead","t":1997.15,"v":2.89},{"s":"5-10 year ahead","t":1997.31,"v":3.02},{"s":"5-10 year ahead","t":1997.47,"v":3.07},{"s":"5-10 year ahead","t":1997.64,"v":3.16},{"s":"5-10 year ahead","t":1997.80,"v":2.98},{"s":"5-10 year ahead","t":1997.96,"v":3.30},
{"s":"5-10 year ahead","t":1998.08,"v":3.16},{"s":"5-10 year ahead","t":1998.21,"v":3.02},{"s":"5-10 year ahead","t":1998.34,"v":2.80},{"s":"5-10 year ahead","t":1998.45,"v":2.98},{"s":"5-10 year ahead","t":1998.61,"v":2.98},{"s":"5-10 year ahead","t":1998.73,"v":2.80},{"s":"5-10 year ahead","t":1998.83,"v":2.52},{"s":"5-10 year ahead","t":1998.94,"v":2.89},
{"s":"5-10 year ahead","t":1999.06,"v":3.25},{"s":"5-10 year ahead","t":1999.19,"v":3.07},{"s":"5-10 year ahead","t":1999.28,"v":2.34},{"s":"5-10 year ahead","t":1999.38,"v":3.07},{"s":"5-10 year ahead","t":1999.48,"v":3.25},{"s":"5-10 year ahead","t":1999.59,"v":2.89},{"s":"5-10 year ahead","t":1999.70,"v":2.98},{"s":"5-10 year ahead","t":1999.83,"v":2.80},{"s":"5-10 year ahead","t":1999.96,"v":2.93},
{"s":"5-10 year ahead","t":2000.07,"v":3.07},{"s":"5-10 year ahead","t":2000.18,"v":2.93},{"s":"5-10 year ahead","t":2000.31,"v":2.89},{"s":"5-10 year ahead","t":2000.44,"v":2.98},{"s":"5-10 year ahead","t":2000.57,"v":3.02},{"s":"5-10 year ahead","t":2000.71,"v":2.93},{"s":"5-10 year ahead","t":2000.87,"v":2.98},
{"s":"5-10 year ahead","t":2001.03,"v":2.98},{"s":"5-10 year ahead","t":2001.14,"v":2.89},{"s":"5-10 year ahead","t":2001.27,"v":3.07},{"s":"5-10 year ahead","t":2001.40,"v":2.84},{"s":"5-10 year ahead","t":2001.52,"v":2.80},{"s":"5-10 year ahead","t":2001.63,"v":3.16},{"s":"5-10 year ahead","t":2001.73,"v":2.89},{"s":"5-10 year ahead","t":2001.84,"v":2.62},{"s":"5-10 year ahead","t":2001.92,"v":2.25},
{"s":"5-10 year ahead","t":2002.00,"v":2.02},{"s":"5-10 year ahead","t":2002.08,"v":2.71},{"s":"5-10 year ahead","t":2002.21,"v":3.07},{"s":"5-10 year ahead","t":2002.32,"v":2.89},{"s":"5-10 year ahead","t":2002.44,"v":2.80},{"s":"5-10 year ahead","t":2002.57,"v":2.93},{"s":"5-10 year ahead","t":2002.70,"v":2.80},{"s":"5-10 year ahead","t":2002.81,"v":3.07},{"s":"5-10 year ahead","t":2002.92,"v":2.89},
{"s":"5-10 year ahead","t":2003.02,"v":2.43},{"s":"5-10 year ahead","t":2003.08,"v":2.25},{"s":"5-10 year ahead","t":2003.15,"v":2.80},{"s":"5-10 year ahead","t":2003.25,"v":2.98},{"s":"5-10 year ahead","t":2003.38,"v":3.20},{"s":"5-10 year ahead","t":2003.50,"v":2.98},{"s":"5-10 year ahead","t":2003.62,"v":2.84},{"s":"5-10 year ahead","t":2003.73,"v":3.02},{"s":"5-10 year ahead","t":2003.86,"v":2.93},{"s":"5-10 year ahead","t":2003.99,"v":2.98},
{"s":"5-10 year ahead","t":2004.10,"v":3.07},{"s":"5-10 year ahead","t":2004.22,"v":2.89},{"s":"5-10 year ahead","t":2004.35,"v":2.98},{"s":"5-10 year ahead","t":2004.48,"v":2.71},{"s":"5-10 year ahead","t":2004.54,"v":2.39},{"s":"5-10 year ahead","t":2004.64,"v":2.52},{"s":"5-10 year ahead","t":2004.75,"v":2.71},{"s":"5-10 year ahead","t":2004.86,"v":2.84},{"s":"5-10 year ahead","t":2004.99,"v":2.93},
{"s":"5-10 year ahead","t":2005.07,"v":3.11},{"s":"5-10 year ahead","t":2005.19,"v":2.98},{"s":"5-10 year ahead","t":2005.32,"v":3.16},{"s":"5-10 year ahead","t":2005.45,"v":3.11},{"s":"5-10 year ahead","t":2005.61,"v":3.07},{"s":"5-10 year ahead","t":2005.77,"v":3.11},{"s":"5-10 year ahead","t":2005.93,"v":3.07},
{"s":"5-10 year ahead","t":2006.09,"v":2.93},{"s":"5-10 year ahead","t":2006.26,"v":3.16},{"s":"5-10 year ahead","t":2006.42,"v":3.02},{"s":"5-10 year ahead","t":2006.58,"v":2.98},{"s":"5-10 year ahead","t":2006.74,"v":3.07},{"s":"5-10 year ahead","t":2006.90,"v":3.02},
{"s":"5-10 year ahead","t":2007.02,"v":2.80},{"s":"5-10 year ahead","t":2007.10,"v":2.57},{"s":"5-10 year ahead","t":2007.18,"v":2.80},{"s":"5-10 year ahead","t":2007.29,"v":2.93},{"s":"5-10 year ahead","t":2007.42,"v":3.07},{"s":"5-10 year ahead","t":2007.55,"v":2.89},{"s":"5-10 year ahead","t":2007.66,"v":2.62},{"s":"5-10 year ahead","t":2007.74,"v":2.48},{"s":"5-10 year ahead","t":2007.82,"v":2.98},{"s":"5-10 year ahead","t":2007.94,"v":3.02},
{"s":"5-10 year ahead","t":2008.07,"v":3.20},{"s":"5-10 year ahead","t":2008.20,"v":3.25},{"s":"5-10 year ahead","t":2008.31,"v":3.34},{"s":"5-10 year ahead","t":2008.42,"v":3.66},{"s":"5-10 year ahead","t":2008.52,"v":3.43},{"s":"5-10 year ahead","t":2008.63,"v":3.34},{"s":"5-10 year ahead","t":2008.75,"v":3.43},{"s":"5-10 year ahead","t":2008.88,"v":3.30},
{"s":"5-10 year ahead","t":2009.04,"v":3.34},{"s":"5-10 year ahead","t":2009.20,"v":3.25},{"s":"5-10 year ahead","t":2009.36,"v":3.25},{"s":"5-10 year ahead","t":2009.52,"v":3.20},{"s":"5-10 year ahead","t":2009.68,"v":3.16},{"s":"5-10 year ahead","t":2009.85,"v":3.20},
{"s":"5-10 year ahead","t":2010.01,"v":3.34},{"s":"5-10 year ahead","t":2010.14,"v":3.16},{"s":"5-10 year ahead","t":2010.26,"v":2.98},{"s":"5-10 year ahead","t":2010.37,"v":3.07},{"s":"5-10 year ahead","t":2010.50,"v":3.39},{"s":"5-10 year ahead","t":2010.63,"v":3.11},{"s":"5-10 year ahead","t":2010.76,"v":2.98},{"s":"5-10 year ahead","t":2010.91,"v":3.11},
{"s":"5-10 year ahead","t":2011.02,"v":3.20},{"s":"5-10 year ahead","t":2011.15,"v":3.34},{"s":"5-10 year ahead","t":2011.28,"v":3.07},{"s":"5-10 year ahead","t":2011.40,"v":2.93},{"s":"5-10 year ahead","t":2011.51,"v":3.34},{"s":"5-10 year ahead","t":2011.64,"v":3.16},{"s":"5-10 year ahead","t":2011.77,"v":2.93},{"s":"5-10 year ahead","t":2011.88,"v":2.66},
{"s":"5-10 year ahead","t":2012.00,"v":2.98},{"s":"5-10 year ahead","t":2012.13,"v":3.16},{"s":"5-10 year ahead","t":2012.26,"v":3.20},{"s":"5-10 year ahead","t":2012.37,"v":2.89},{"s":"5-10 year ahead","t":2012.49,"v":3.16},{"s":"5-10 year ahead","t":2012.62,"v":2.93},{"s":"5-10 year ahead","t":2012.70,"v":2.66},{"s":"5-10 year ahead","t":2012.81,"v":3.11},{"s":"5-10 year ahead","t":2012.94,"v":3.20},
{"s":"5-10 year ahead","t":2013.07,"v":3.25},{"s":"5-10 year ahead","t":2013.18,"v":3.30},{"s":"5-10 year ahead","t":2013.30,"v":3.20},{"s":"5-10 year ahead","t":2013.40,"v":2.93},{"s":"5-10 year ahead","t":2013.46,"v":2.66},{"s":"5-10 year ahead","t":2013.56,"v":3.07},{"s":"5-10 year ahead","t":2013.67,"v":3.25},{"s":"5-10 year ahead","t":2013.79,"v":3.11},{"s":"5-10 year ahead","t":2013.92,"v":2.98},
{"s":"5-10 year ahead","t":2014.05,"v":2.80},{"s":"5-10 year ahead","t":2014.14,"v":3.14},{"s":"5-10 year ahead","t":2014.22,"v":2.89},{"s":"5-10 year ahead","t":2014.35,"v":2.66},{"s":"5-10 year ahead","t":2014.46,"v":2.80},{"s":"5-10 year ahead","t":2014.58,"v":2.71},{"s":"5-10 year ahead","t":2014.70,"v":2.57},{"s":"5-10 year ahead","t":2014.83,"v":2.66},{"s":"5-10 year ahead","t":2014.94,"v":2.62},
{"s":"5-10 year ahead","t":2015.06,"v":2.52},{"s":"5-10 year ahead","t":2015.19,"v":2.66},{"s":"5-10 year ahead","t":2015.28,"v":3.12},{"s":"5-10 year ahead","t":2015.35,"v":2.62},{"s":"5-10 year ahead","t":2015.48,"v":2.43},{"s":"5-10 year ahead","t":2015.59,"v":2.62},{"s":"5-10 year ahead","t":2015.70,"v":2.71},{"s":"5-10 year ahead","t":2015.80,"v":2.43},{"s":"5-10 year ahead","t":2015.87,"v":2.16},{"s":"5-10 year ahead","t":2015.96,"v":2.48},
{"s":"5-10 year ahead","t":2016.08,"v":2.52},{"s":"5-10 year ahead","t":2016.19,"v":2.39},{"s":"5-10 year ahead","t":2016.32,"v":2.57},{"s":"5-10 year ahead","t":2016.43,"v":2.25},{"s":"5-10 year ahead","t":2016.56,"v":2.39},{"s":"5-10 year ahead","t":2016.67,"v":2.52},{"s":"5-10 year ahead","t":2016.80,"v":2.34},{"s":"5-10 year ahead","t":2016.93,"v":2.39},
{"s":"5-10 year ahead","t":2017.04,"v":2.25},{"s":"5-10 year ahead","t":2017.16,"v":2.20},{"s":"5-10 year ahead","t":2017.29,"v":2.34},{"s":"5-10 year ahead","t":2017.42,"v":2.30},{"s":"5-10 year ahead","t":2017.53,"v":2.43},{"s":"5-10 year ahead","t":2017.64,"v":2.25},{"s":"5-10 year ahead","t":2017.77,"v":2.07},{"s":"5-10 year ahead","t":2017.90,"v":2.12},
{"s":"5-10 year ahead","t":2018.03,"v":2.20},{"s":"5-10 year ahead","t":2018.16,"v":2.25},{"s":"5-10 year ahead","t":2018.29,"v":2.20},{"s":"5-10 year ahead","t":2018.42,"v":2.48},{"s":"5-10 year ahead","t":2018.51,"v":2.25},{"s":"5-10 year ahead","t":2018.61,"v":2.20},{"s":"5-10 year ahead","t":2018.74,"v":2.07},{"s":"5-10 year ahead","t":2018.87,"v":2.02},
{"s":"5-10 year ahead","t":2019.00,"v":2.12},{"s":"5-10 year ahead","t":2019.14,"v":2.07},{"s":"5-10 year ahead","t":2019.27,"v":2.16},{"s":"5-10 year ahead","t":2019.42,"v":2.25},{"s":"5-10 year ahead","t":2019.55,"v":2.20},{"s":"5-10 year ahead","t":2019.68,"v":2.16},{"s":"5-10 year ahead","t":2019.81,"v":2.12},{"s":"5-10 year ahead","t":2019.95,"v":2.16},
{"s":"5-10 year ahead","t":2020.06,"v":2.20},{"s":"5-10 year ahead","t":2020.19,"v":2.34},{"s":"5-10 year ahead","t":2020.32,"v":2.20},{"s":"5-10 year ahead","t":2020.44,"v":2.52},{"s":"5-10 year ahead","t":2020.55,"v":2.62},{"s":"5-10 year ahead","t":2020.68,"v":2.34},{"s":"5-10 year ahead","t":2020.81,"v":2.12},{"s":"5-10 year ahead","t":2020.91,"v":2.25},{"s":"5-10 year ahead","t":2020.97,"v":2.62},
{"s":"5-10 year ahead","t":2021.04,"v":3.02},{"s":"5-10 year ahead","t":2021.17,"v":3.12},{"s":"5-10 year ahead","t":2021.33,"v":3.21},{"s":"5-10 year ahead","t":2021.49,"v":3.34},{"s":"5-10 year ahead","t":2021.66,"v":3.39},{"s":"5-10 year ahead","t":2021.79,"v":3.48},{"s":"5-10 year ahead","t":2021.90,"v":3.53},
{"s":"5-10 year ahead","t":2022.01,"v":3.34},{"s":"5-10 year ahead","t":2022.11,"v":3.71},{"s":"5-10 year ahead","t":2022.20,"v":4.07},{"s":"5-10 year ahead","t":2022.28,"v":4.16},{"s":"5-10 year ahead","t":2022.39,"v":4.61},{"s":"5-10 year ahead","t":2022.47,"v":4.66},{"s":"5-10 year ahead","t":2022.56,"v":4.30},{"s":"5-10 year ahead","t":2022.64,"v":4.11},{"s":"5-10 year ahead","t":2022.72,"v":4.07},{"s":"5-10 year ahead","t":2022.80,"v":4.16},{"s":"5-10 year ahead","t":2022.88,"v":3.98}
]
},
"layer": [
{"data": {"name": "rec"}, "mark": {"type": "rect", "color": "#e3e3e3"},
 "encoding": {
  "x": {"field": "a", "type": "quantitative", "scale": {"domain": [1977, 2024.55], "nice": false, "zero": false},
        "axis": {"values": [1977,1980,1983,1986,1989,1992,1995,1998,2001,2004,2007,2010,2013,2016,2019,2022], "format": "d", "labelFont": "Liberation Sans", "labelFontSize": 19, "labelColor": "black", "labelOverlap": false, "tickSize": -5, "tickColor": "#7f7f7f", "domainColor": "#7f7f7f", "domainWidth": 1.5, "labelPadding": 13, "labelFlush": false, "grid": false,
                 "title": "University of Michigan 2022", "titleAnchor": "end", "titleFont": "Liberation Sans", "titleFontSize": 16, "titleFontWeight": "normal", "titleColor": "black", "titlePadding": 14}},
  "x2": {"field": "b"},
  "y": {"datum": 1, "type": "quantitative", "scale": {"domain": [1, 11], "nice": false, "zero": false},
        "axis": {"values": [1,2,3,4,5,6,7,8,9,10,11], "tickCount": 11, "labelFont": "Liberation Sans", "labelFontSize": 19, "labelColor": "black", "labelOverlap": false, "tickSize": 4, "tickColor": "#7f7f7f", "domainColor": "#7f7f7f", "domainWidth": 1.5, "labelPadding": 8, "grid": false, "title": null}},
  "y2": {"datum": 11}
 }},
{"data": {"name": "ref"}, "mark": {"type": "rule"},
 "encoding": {
  "x": {"field": "from", "type": "quantitative"},
  "x2": {"field": "to"},
  "y": {"field": "lvl", "type": "quantitative",
        "axis": {"values": [1,2,3,4,5,6,7,8,9,10,11], "tickCount": 11, "labelFont": "Liberation Sans", "labelFontSize": 19, "labelColor": "black", "labelOverlap": false, "tickSize": 4, "tickColor": "#7f7f7f", "domainColor": "#7f7f7f", "domainWidth": 1.5, "labelPadding": 8, "grid": false, "title": null}},
  "stroke": {"field": "k", "type": "nominal", "scale": {"domain": ["Year ahead", "5-10 year ahead"], "range": ["#000000", "#ff0000"]}, "legend": null},
  "strokeDash": {"field": "k", "type": "nominal", "scale": {"domain": ["Year ahead", "5-10 year ahead"], "range": [[1, 0], [2, 2]]}, "legend": null},
  "strokeWidth": {"value": 1.3}
 }},
{"data": {"name": "lines"}, "mark": {"type": "line", "strokeJoin": "miter"},
 "encoding": {
  "x": {"field": "t", "type": "quantitative"},
  "y": {"field": "v", "type": "quantitative",
        "axis": {"values": [1,2,3,4,5,6,7,8,9,10,11], "tickCount": 11, "labelFont": "Liberation Sans", "labelFontSize": 19, "labelColor": "black", "labelOverlap": false, "tickSize": 4, "tickColor": "#7f7f7f", "domainColor": "#7f7f7f", "domainWidth": 1.5, "labelPadding": 8, "grid": false, "title": null}},
  "color": {"field": "s", "type": "nominal", "scale": {"domain": ["Year ahead", "5-10 year ahead"], "range": ["#000000", "#ff0000"]},
            "legend": {"orient": "none", "legendX": 262, "legendY": 384, "direction": "horizontal", "title": null, "symbolType": "stroke", "symbolSize": 3000, "symbolStrokeWidth": 2.5, "labelFont": "Liberation Sans", "labelFontSize": 20, "labelColor": "black", "labelOffset": 6, "columnPadding": 40, "padding": 0}},
  "strokeDash": {"field": "s", "type": "nominal", "scale": {"domain": ["Year ahead", "5-10 year ahead"], "range": [[1, 0], [2.5, 2.5]]}},
  "strokeWidth": {"field": "s", "type": "nominal", "scale": {"domain": ["Year ahead", "5-10 year ahead"], "range": [2, 3]}, "legend": null}
 }}
],
"resolve": {"scale": {"stroke": "independent", "strokeDash": "independent", "color": "independent"}}
}
